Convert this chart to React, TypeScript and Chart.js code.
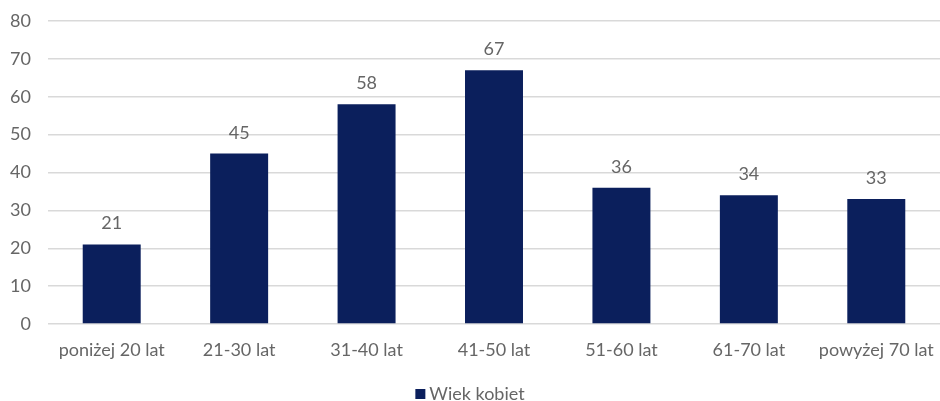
import React, { useEffect, useRef } from "react";
import { Chart, registerables } from "chart.js";

Chart.register(...registerables);

const categories = ["poniżej 20 lat", "21-30 lat", "31-40 lat", "41-50 lat", "51-60 lat", "61-70 lat", "powyżej 70 lat"];
const values = [21, 45, 58, 67, 36, 34, 33];
const seriesLabel = "Wiek kobiet";
const yTicksMax = 80;
const yStep = 10;

const FONT = "Lato, 'Open Sans', sans-serif";
const TEXT = "#666666";
const BAR = "#0b1f5c";
const FS = 18;

const labelPlugin = {
  id: "valueLabels",
  afterDatasetsDraw(chart: any) {
    const ctx = chart.ctx;
    const meta = chart.getDatasetMeta(0);
    ctx.save();
    ctx.font = `${FS}px ${FONT}`;
    ctx.fillStyle = TEXT;
    ctx.textAlign = "center";
    ctx.textBaseline = "alphabetic";
    meta.data.forEach((el: any, i: number) => {
      ctx.fillText(String(values[i]), el.x, el.y - 15);
    });
    ctx.restore();
  },
};

const legendPlugin = {
  id: "customLegend",
  afterDraw(chart: any) {
    const ctx = chart.ctx;
    ctx.save();
    ctx.font = `${FS}px ${FONT}`;
    const tw = ctx.measureText(seriesLabel).width;
    const box = 10;
    const gap = 4;
    const total = box + gap + tw;
    const cx = chart.width / 2;
    const x0 = cx - total / 2;
    const cy = 394;
    ctx.fillStyle = BAR;
    ctx.fillRect(x0, cy - box / 2, box, box);
    ctx.fillStyle = TEXT;
    ctx.textAlign = "left";
    ctx.textBaseline = "middle";
    ctx.fillText(seriesLabel, x0 + box + gap, cy);
    ctx.restore();
  },
};

export default function App() {
  const ref = useRef<HTMLCanvasElement>(null);
  useEffect(() => {
    document.body.style.margin = "0";
    const chart = new Chart(ref.current!, {
      type: "bar",
      data: {
        labels: categories,
        datasets: [
          {
            label: seriesLabel,
            data: values,
            backgroundColor: BAR,
            borderWidth: 0,
            barPercentage: 0.455,
            categoryPercentage: 1,
          },
        ],
      },
      options: {
        animation: false,
        responsive: false,
        layout: { padding: { top: 21, right: 0, left: 0, bottom: 33 } },
        plugins: {
          legend: { display: false },
          tooltip: { enabled: false },
        },
        scales: {
          x: {
            grid: { display: false },
            border: { display: false },
            ticks: { color: TEXT, font: { family: FONT, size: FS }, padding: 7, maxRotation: 0, autoSkip: false },
            afterFit(scale: any) {
              scale.height = 44;
              scale.paddingLeft = 0;
              scale.paddingRight = 0;
            },
          },
          y: {
            min: 0,
            max: yTicksMax,
            ticks: { stepSize: yStep, color: TEXT, font: { family: FONT, size: FS }, padding: 17 },
            grid: { color: "#d9d9d9", lineWidth: 1.5, drawTicks: false },
            border: { display: false },
            afterFit(scale: any) {
              scale.width = 48;
              scale.paddingTop = 0;
              scale.paddingBottom = 0;
            },
          },
        },
      },
      plugins: [labelPlugin, legendPlugin],
    });
    return () => chart.destroy();
  }, []);
  return (
    <div style={{ position: "absolute", left: 0, top: 0, width: 940, height: 401 }}>
      <canvas ref={ref} width={940} height={401} />
    </div>
  );
}
